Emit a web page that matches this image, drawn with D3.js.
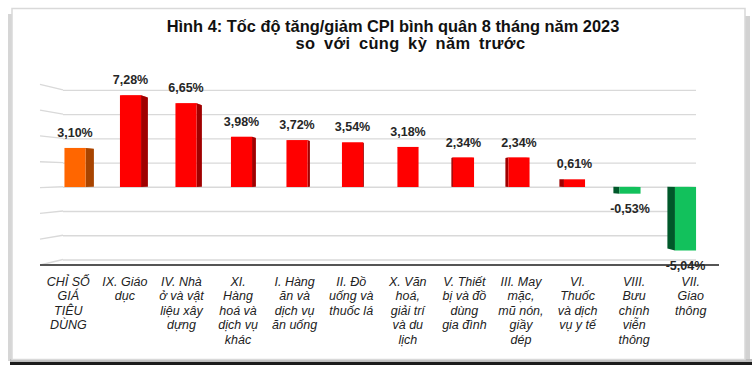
<!DOCTYPE html>
<html><head><meta charset="utf-8">
<script src="https://cdn.jsdelivr.net/npm/d3@7"></script>
<style>
html,body{margin:0;padding:0;background:#fff;}
svg{display:block;font-family:"Liberation Sans",Arial,sans-serif;}
</style>
</head><body>
<svg id="c" width="752" height="365"></svg>
<script>
// ---- data ----
const titleLines = ["Hình 4: Tốc độ tăng/giảm CPI bình quân 8 tháng năm 2023", "so với cùng kỳ năm trước"];
const categories = [
  "CHỈ SỐ\nGIÁ\nTIÊU\nDÙNG",
  "IX. Giáo\ndục",
  "IV. Nhà\nở và vật\nliệu xây\ndựng",
  "XI.\nHàng\nhoá và\ndịch vụ\nkhác",
  "I. Hàng\năn và\ndịch vụ\năn uống",
  "II. Đồ\nuống và\nthuốc lá",
  "X. Văn\nhoá,\ngiải trí\nvà du\nlịch",
  "V. Thiết\nbị và đồ\ndùng\ngia đình",
  "III. May\nmặc,\nmũ nón,\ngiầy\ndép",
  "VI.\nThuốc\nvà dịch\nvụ y tế",
  "VIII.\nBưu\nchính\nviễn\nthông",
  "VII.\nGiao\nthông"
];
const values = [3.10, 7.28, 6.65, 3.98, 3.72, 3.54, 3.18, 2.34, 2.34, 0.61, -0.53, -5.04];
const valueLabels = ["3,10%", "7,28%", "6,65%", "3,98%", "3,72%", "3,54%", "3,18%", "2,34%", "2,34%", "0,61%", "-0,53%", "-5,04%"];
const gridTicks = [-6, -4, -2, 0, 2, 4, 6, 8];

// ---- styles ----
const colTotal = {front:"#FF6600", side:"#A84400", top:"#FF8a3a"};
const colUp    = {front:"#FF0000", side:"#A00000", top:"#ff5050"};
const colDown  = {front:"#12C15C", side:"#00582A", top:"#5ad88c"};

const svg = d3.select("#c");

// frame + shadow
svg.append("rect").attr("x",8).attr("y",14).attr("width",5).attr("height",347).attr("fill","#d6d6d6");
svg.append("rect").attr("x",745).attr("y",16).attr("width",5).attr("height",345).attr("fill","#d2d2d2");
svg.append("rect").attr("x",10).attr("y",359).attr("width",742).attr("height",3).attr("fill","#bdbdbd");
svg.append("rect").attr("x",10).attr("y",362).attr("width",742).attr("height",3).attr("fill","#1c1c1c");
svg.append("rect").attr("x",12).attr("y",8.5).attr("width",733).attr("height",351)
  .attr("fill","#fff").attr("stroke","#d9d9d9").attr("stroke-width",1.5);

// title
const titleX = [393, 410.5], titleWS = [0, 3.5], titleLS = [0, 0.4];
svg.append("g").selectAll("text").data(titleLines).join("text")
  .attr("x",(d,i)=> titleX[i])
  .attr("y",(d,i)=> 31.5 + i*17)
  .attr("text-anchor","middle")
  .attr("word-spacing",(d,i)=>titleWS[i])
  .attr("letter-spacing",(d,i)=>titleLS[i])
  .attr("font-size","16.4px").attr("font-weight","bold").attr("fill","#111")
  .text(d=>d);

// scales
const n = values.length;
const idx = d3.range(n);
const xBar = d3.scaleBand().domain(idx).range([47.25, 713.25]).paddingInner(0.62).paddingOuter(0.31);
const xFloor = d3.scaleBand().domain(idx).range([40, 719]);
const yFront = d3.scaleLinear().domain([-6, 8]).range([187 + 6*12.6, 187 - 8*12.6]);
const yBack = d3.scaleLinear().domain([-6, 8]).range([259.5, 89.8]);
const yWall = d3.scaleLinear().domain([-6, 8]).range([265, 84.3]);
const backX0 = 63, backX1 = 696, wallX = 40, floorX1 = 719;

// back wall gridlines via axis
const gAxis = svg.append("g").attr("transform",`translate(${backX0},0)`)
  .call(d3.axisRight(yBack).tickValues(gridTicks).tickSize(backX1-backX0).tickFormat(""));
gAxis.select(".domain").remove();
gAxis.selectAll(".tick line").attr("stroke","#d9d9d9").attr("stroke-width",1.3);

// left wall gridlines
svg.append("g").selectAll("line").data(gridTicks).join("line")
  .attr("x1",wallX).attr("y1",d=>yWall(d))
  .attr("x2",backX0).attr("y2",d=>yBack(d))
  .attr("stroke","#d9d9d9").attr("stroke-width",1.3);

// floor front edge (category axis)
svg.append("line").attr("x1",wallX).attr("x2",floorX1)
  .attr("y1",yWall(-6)).attr("y2",yWall(-6))
  .attr("stroke","#555").attr("stroke-width",1.8);

// 3D bars
const VP = [395, 175], t = 0.027;
const proj = p => [p[0] + (VP[0]-p[0])*t, p[1] + (VP[1]-p[1])*t];
const colorOf = i => i===0 ? colTotal : (values[i] >= 0 ? colUp : colDown);
const poly = pts => "M" + pts.map(p=>p.join(",")).join("L") + "Z";

const gBars = svg.append("g");
idx.forEach(i=>{
  const v = values[i];
  const x0 = xBar(i), x1 = x0 + xBar.bandwidth();
  const yT = yFront(Math.max(v,0)), yB = yFront(Math.min(v,0));
  const c = colorOf(i);
  gBars.append("path").attr("d", poly([[x0,yT],[x1,yT],proj([x1,yT]),proj([x0,yT])])).attr("fill",c.top);
  const xs = (x1 < VP[0]) ? x1 : x0;
  gBars.append("path").attr("d", poly([[xs,yT],[xs,yB],proj([xs,yB]),proj([xs,yT])])).attr("fill",c.side);
  gBars.append("rect").attr("x",x0).attr("y",yT).attr("width",x1-x0).attr("height",yB-yT)
    .attr("fill",c.front);
});

// value labels
svg.append("g").selectAll("text").data(idx).join("text")
  .attr("x",i=> xBar(i) + xBar.bandwidth()/2)
  .attr("y",i=> values[i] >= 0 ? yFront(values[i]) - 11 : yFront(values[i]) + 19.5)
  .attr("text-anchor","middle")
  .attr("font-size","12.5px").attr("font-weight","bold").attr("fill","#262626")
  .text(i=>valueLabels[i]);

// category labels
const gCat = svg.append("g");
idx.forEach(i=>{
  const cx = xFloor(i) + xFloor.bandwidth()/2;
  const txt = gCat.append("text").attr("text-anchor","middle")
    .attr("font-size","12.5px").attr("font-style","italic").attr("fill","#222");
  categories[i].split("\n").forEach((line,k)=>{
    txt.append("tspan").attr("x",cx).attr("y",285.5 + k*14.6).text(line);
  });
});
</script>
</body></html>
